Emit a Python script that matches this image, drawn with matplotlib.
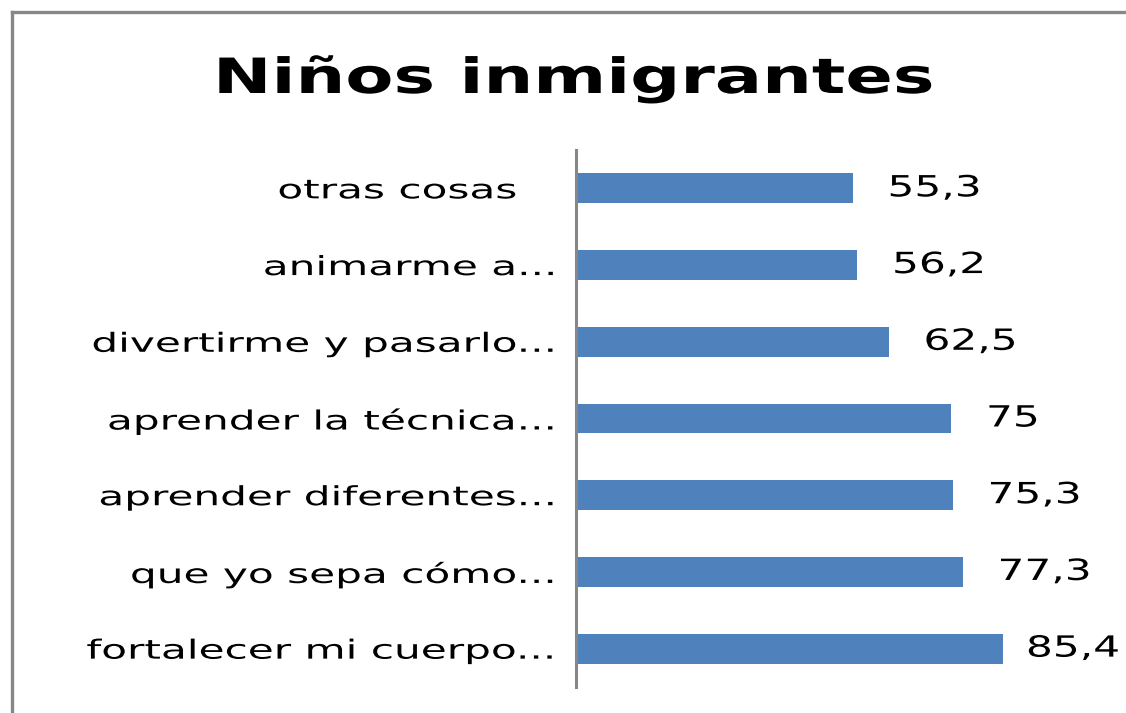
import matplotlib
matplotlib.use("Agg")
import matplotlib.pyplot as plt
from matplotlib.lines import Line2D
from matplotlib.patheffects import AbstractPathEffect
from matplotlib.transforms import Affine2D, ScaledTranslation

categories = [
    "fortalecer mi cuerpo...",
    "que yo sepa cómo...",
    "aprender diferentes...",
    "aprender la técnica...",
    "divertirme y pasarlo...",
    "animarme a...",
    "otras cosas   ",
]
values = [85.4, 77.3, 75.3, 75.0, 62.5, 56.2, 55.3]
value_labels = ["85,4", "77,3", "75,3", "75", "62,5", "56,2", "55,3"]
title = "Niños inmigrantes"


class HorizontalStretch(AbstractPathEffect):
    """Widen glyphs horizontally about the text's own anchor point."""

    def __init__(self, text, sx):
        super().__init__()
        self.text = text
        self.sx = sx

    def draw_path(self, renderer, gc, tpath, affine, rgbFace=None):
        x0 = self.text.get_transform().transform(
            self.text.get_unitless_position())[0]
        stretch = Affine2D().translate(-x0, 0).scale(self.sx, 1).translate(x0, 0)
        renderer.draw_path(gc, tpath, affine + stretch, rgbFace)


def stretch(text, sx):
    text.set_path_effects([HorizontalStretch(text, sx)])


W, H = 1126, 713
fig = plt.figure(figsize=(W / 100, H / 100), dpi=100)
fig.patch.set_facecolor("white")

# plot area in pixel terms
left, right, top, bottom = 576, 1076, 150, 687
ax = fig.add_axes([left / W, 1 - bottom / H, (right - left) / W, (bottom - top) / H])
ax.set_facecolor("none")

y = list(range(len(categories)))
ax.barh(y, values, height=0.39, color="#4F81BD", zorder=1)
ax.set_xlim(0, 100)
ax.set_ylim(-0.5, len(categories) - 0.5)

ax.set_yticks(y)
ax.set_yticklabels(categories, fontsize=19, family="DejaVu Sans")
ax.tick_params(axis="y", length=0, pad=13)
for lab in ax.get_yticklabels():
    stretch(lab, 1.6)
ax.set_xticks([])
for s in ["top", "right", "bottom"]:
    ax.spines[s].set_visible(False)
ax.spines["left"].set_color("#878787")
ax.spines["left"].set_linewidth(2.2)
ax.spines["left"].set_zorder(3)

# value labels to the right of each bar
value_sx = 1.45
gap_px = 35
value_texts = []
for yi, v, lab in zip(y, values, value_labels):
    off = ScaledTranslation(gap_px / 100, 0, fig.dpi_scale_trans)
    t = ax.text(v, yi, lab, transform=ax.transData + off, ha="left",
                va="center", fontsize=21, color="black", family="DejaVu Sans")
    stretch(t, value_sx)
    value_texts.append((t, v, yi))

# keep labels inside the figure's right edge
fig.canvas.draw()
renderer = fig.canvas.get_renderer()
for t, v, yi in value_texts:
    bb = t.get_window_extent(renderer)
    w = bb.width * value_sx
    if bb.x0 + w > W - 6:
        shift = gap_px - ((bb.x0 + w) - (W - 6))
        t.set_transform(ax.transData + ScaledTranslation(shift / 100, 0, fig.dpi_scale_trans))

ttl = fig.text(574 / W, 1 - 93 / H, title, ha="center", va="baseline",
               fontsize=35, fontweight="bold", family="DejaVu Sans")
stretch(ttl, 1.44)

# outer chart border (top and left edges)
fig.add_artist(Line2D([11.5 / W, 11.5 / W], [0, 1 - 12 / H], color="#878787", lw=2.4))
fig.add_artist(Line2D([11.5 / W, 1], [1 - 12 / H, 1 - 12 / H], color="#878787", lw=2.4))

fig.savefig("out.png", dpi=100)
